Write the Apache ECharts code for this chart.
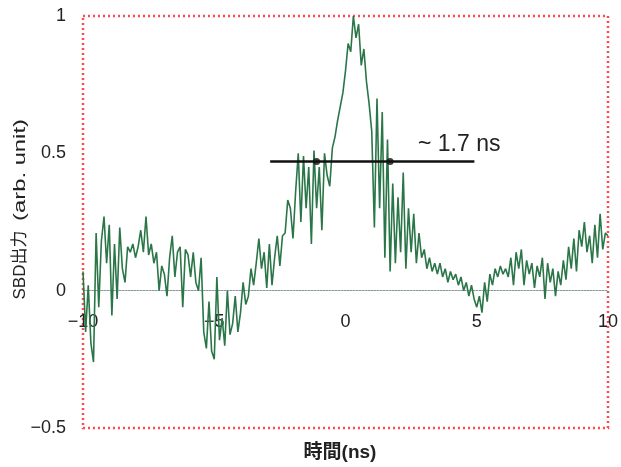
<!DOCTYPE html>
<html>
<head>
<meta charset="utf-8">
<script src="https://cdn.jsdelivr.net/npm/echarts@6/dist/echarts.min.js"></script>
<style>
  html, body { margin: 0; padding: 0; background: #fff; }
  #chart { width: 621px; height: 467px; }
</style>
</head>
<body>
<div id="chart"></div>
<script>
// SBD output signal sampled every 0.1 ns from -10 ns to +10 ns
const timeStart = -10;
const timeStep = 0.1;
const sbdOutput = [
  0.07, -0.15, 0.02, -0.19, -0.26, 0.21, -0.06, 0.18, 0.27, 0.10,
  0.24, -0.09, 0.17, -0.03, 0.23, 0.08, 0.03, 0.16, 0.14, 0.17,
  0.12, 0.16, 0.22, 0.14, 0.27, 0.13, 0.17, 0.10, 0.14, 0.00,
  0.09, 0.06, -0.02, 0.12, 0.20, 0.05, 0.14, 0.16, -0.06, 0.15,
  0.13, 0.05, 0.14, 0.03, 0.00, 0.12, -0.15, -0.21, -0.04, -0.22,
  -0.25, 0.05, -0.18, -0.10, -0.20, 0.00, -0.16, -0.12, -0.02, -0.15,
  -0.08, 0.03, -0.05, -0.02, 0.08, 0.02, 0.10, 0.19, 0.08, 0.14,
  0.01, 0.17, 0.02, 0.12, 0.20, 0.09, 0.20, 0.21, 0.33, 0.30,
  0.19, 0.36, 0.50, 0.25, 0.49, 0.30, 0.45, 0.17, 0.51, 0.30,
  0.45, 0.22, 0.50, 0.42, 0.38, 0.52, 0.56, 0.62, 0.67, 0.72,
  0.80, 0.90, 0.87, 1.00, 0.92, 0.97, 0.82, 0.88, 0.76, 0.68,
  0.58, 0.23, 0.70, 0.30, 0.65, 0.12, 0.55, 0.07, 0.39, 0.10,
  0.34, 0.14, 0.43, 0.08, 0.30, 0.14, 0.28, 0.10, 0.21, 0.12,
  0.15, 0.08, 0.12, 0.07, 0.10, 0.06, 0.10, 0.05, 0.08, 0.03,
  0.07, 0.04, 0.06, 0.02, 0.05, 0.00, 0.03, -0.02, 0.02, -0.03,
  -0.06, -0.02, -0.08, 0.03, -0.04, 0.06, 0.02, 0.08, 0.05, 0.09,
  0.06, 0.08, 0.05, 0.12, 0.02, 0.14, 0.08, 0.15, 0.02, 0.11,
  0.06, 0.10, 0.01, 0.09, 0.05, 0.12, -0.03, 0.10, 0.03, 0.08,
  -0.02, 0.07, 0.02, 0.11, 0.04, 0.16, 0.08, 0.19, 0.07, 0.22,
  0.16, 0.25, 0.14, 0.20, 0.10, 0.24, 0.12, 0.28, 0.15, 0.21,
  0.20
];

// Half-maximum width marker
const fwhmLevel = 0.47;
const fwhmLineSpan = [-2.87, 4.91];
const fwhmEdges = [-1.1, 1.7];
const fwhmLabel = '~ 1.7 ns';

const xTicks = [-10, -5, 0, 5, 10];
const yTicks = [-0.5, 0, 0.5, 1];

const signalPoints = sbdOutput.map((v, i) => [+(timeStart + i * timeStep).toFixed(2), v]);

const FONT = '"Liberation Sans", Arial, "Noto Sans CJK JP", sans-serif';
const signed = v => (v < 0 ? '\u2212' + Math.abs(v) : String(v));

const chart = echarts.init(document.getElementById('chart'), null, { renderer: 'canvas' });

chart.setOption({
  animation: false,
  backgroundColor: '#ffffff',
  grid: {
    left: 83, right: 11, top: 16, bottom: 39,
    show: true,
    borderColor: '#ff4a4a',
    borderWidth: 2.5,
    borderType: [2, 3],
    backgroundColor: 'transparent'
  },
  xAxis: {
    type: 'value',
    min: -10, max: 10, interval: 5,
    position: 'bottom',
    offset: -137.3,
    axisLine: { onZero: false, lineStyle: { color: '#8a9a9a', width: 1, type: [2, 1] } },
    axisTick: { show: false },
    splitLine: { show: false },
    axisLabel: {
      margin: 22, fontSize: 18, color: '#222', fontFamily: FONT,
      showMinLabel: true, showMaxLabel: true,
      formatter: v => (xTicks.includes(v) ? signed(v) : '')
    }
  },
  yAxis: {
    type: 'value',
    min: -0.5, max: 1, interval: 0.5,
    axisLine: { show: false },
    axisTick: { show: false },
    splitLine: { show: false },
    axisLabel: {
      margin: 17, fontSize: 18, color: '#222', fontFamily: FONT,
      formatter: v => (yTicks.includes(v) ? signed(v) : '')
    }
  },
  series: [
    {
      type: 'line',
      data: signalPoints,
      showSymbol: false,
      clip: false,
      lineStyle: { color: '#2b7648', width: 1.6 },
      z: 2
    },
    {
      type: 'line',
      data: fwhmLineSpan.map(t => [t, fwhmLevel]),
      showSymbol: false,
      lineStyle: { color: '#111', width: 2.5 },
      z: 3
    },
    {
      type: 'scatter',
      data: fwhmEdges.map(t => [t, fwhmLevel]),
      symbol: 'circle',
      symbolSize: 7,
      itemStyle: { color: '#111' },
      z: 4
    }
  ],
  graphic: [
    {
      type: 'text',
      left: 418, top: 133,
      style: { text: fwhmLabel, fontSize: 23, fill: '#222', fontFamily: FONT }
    },
    {
      // vertical axis title, reading bottom to top
      type: 'text',
      x: 20, y: 265,
      rotation: Math.PI / 2,
      style: {
        text: 'SBD出力', fontSize: 17, fill: '#222', fontFamily: FONT,
        align: 'center', verticalAlign: 'middle'
      }
    },
    {
      type: 'text',
      x: 20, y: 170,
      rotation: Math.PI / 2,
      scaleX: 1.4,
      style: {
        text: '(arb. unit)', fontSize: 17, fill: '#222', fontFamily: FONT,
        align: 'center', verticalAlign: 'middle'
      }
    },
    {
      type: 'text',
      x: 340, y: 453,
      style: {
        text: '時間(ns)', fontSize: 19, fontWeight: 'bold', fill: '#222', fontFamily: FONT,
        align: 'center', verticalAlign: 'middle'
      }
    }
  ]
});
</script>
</body>
</html>
